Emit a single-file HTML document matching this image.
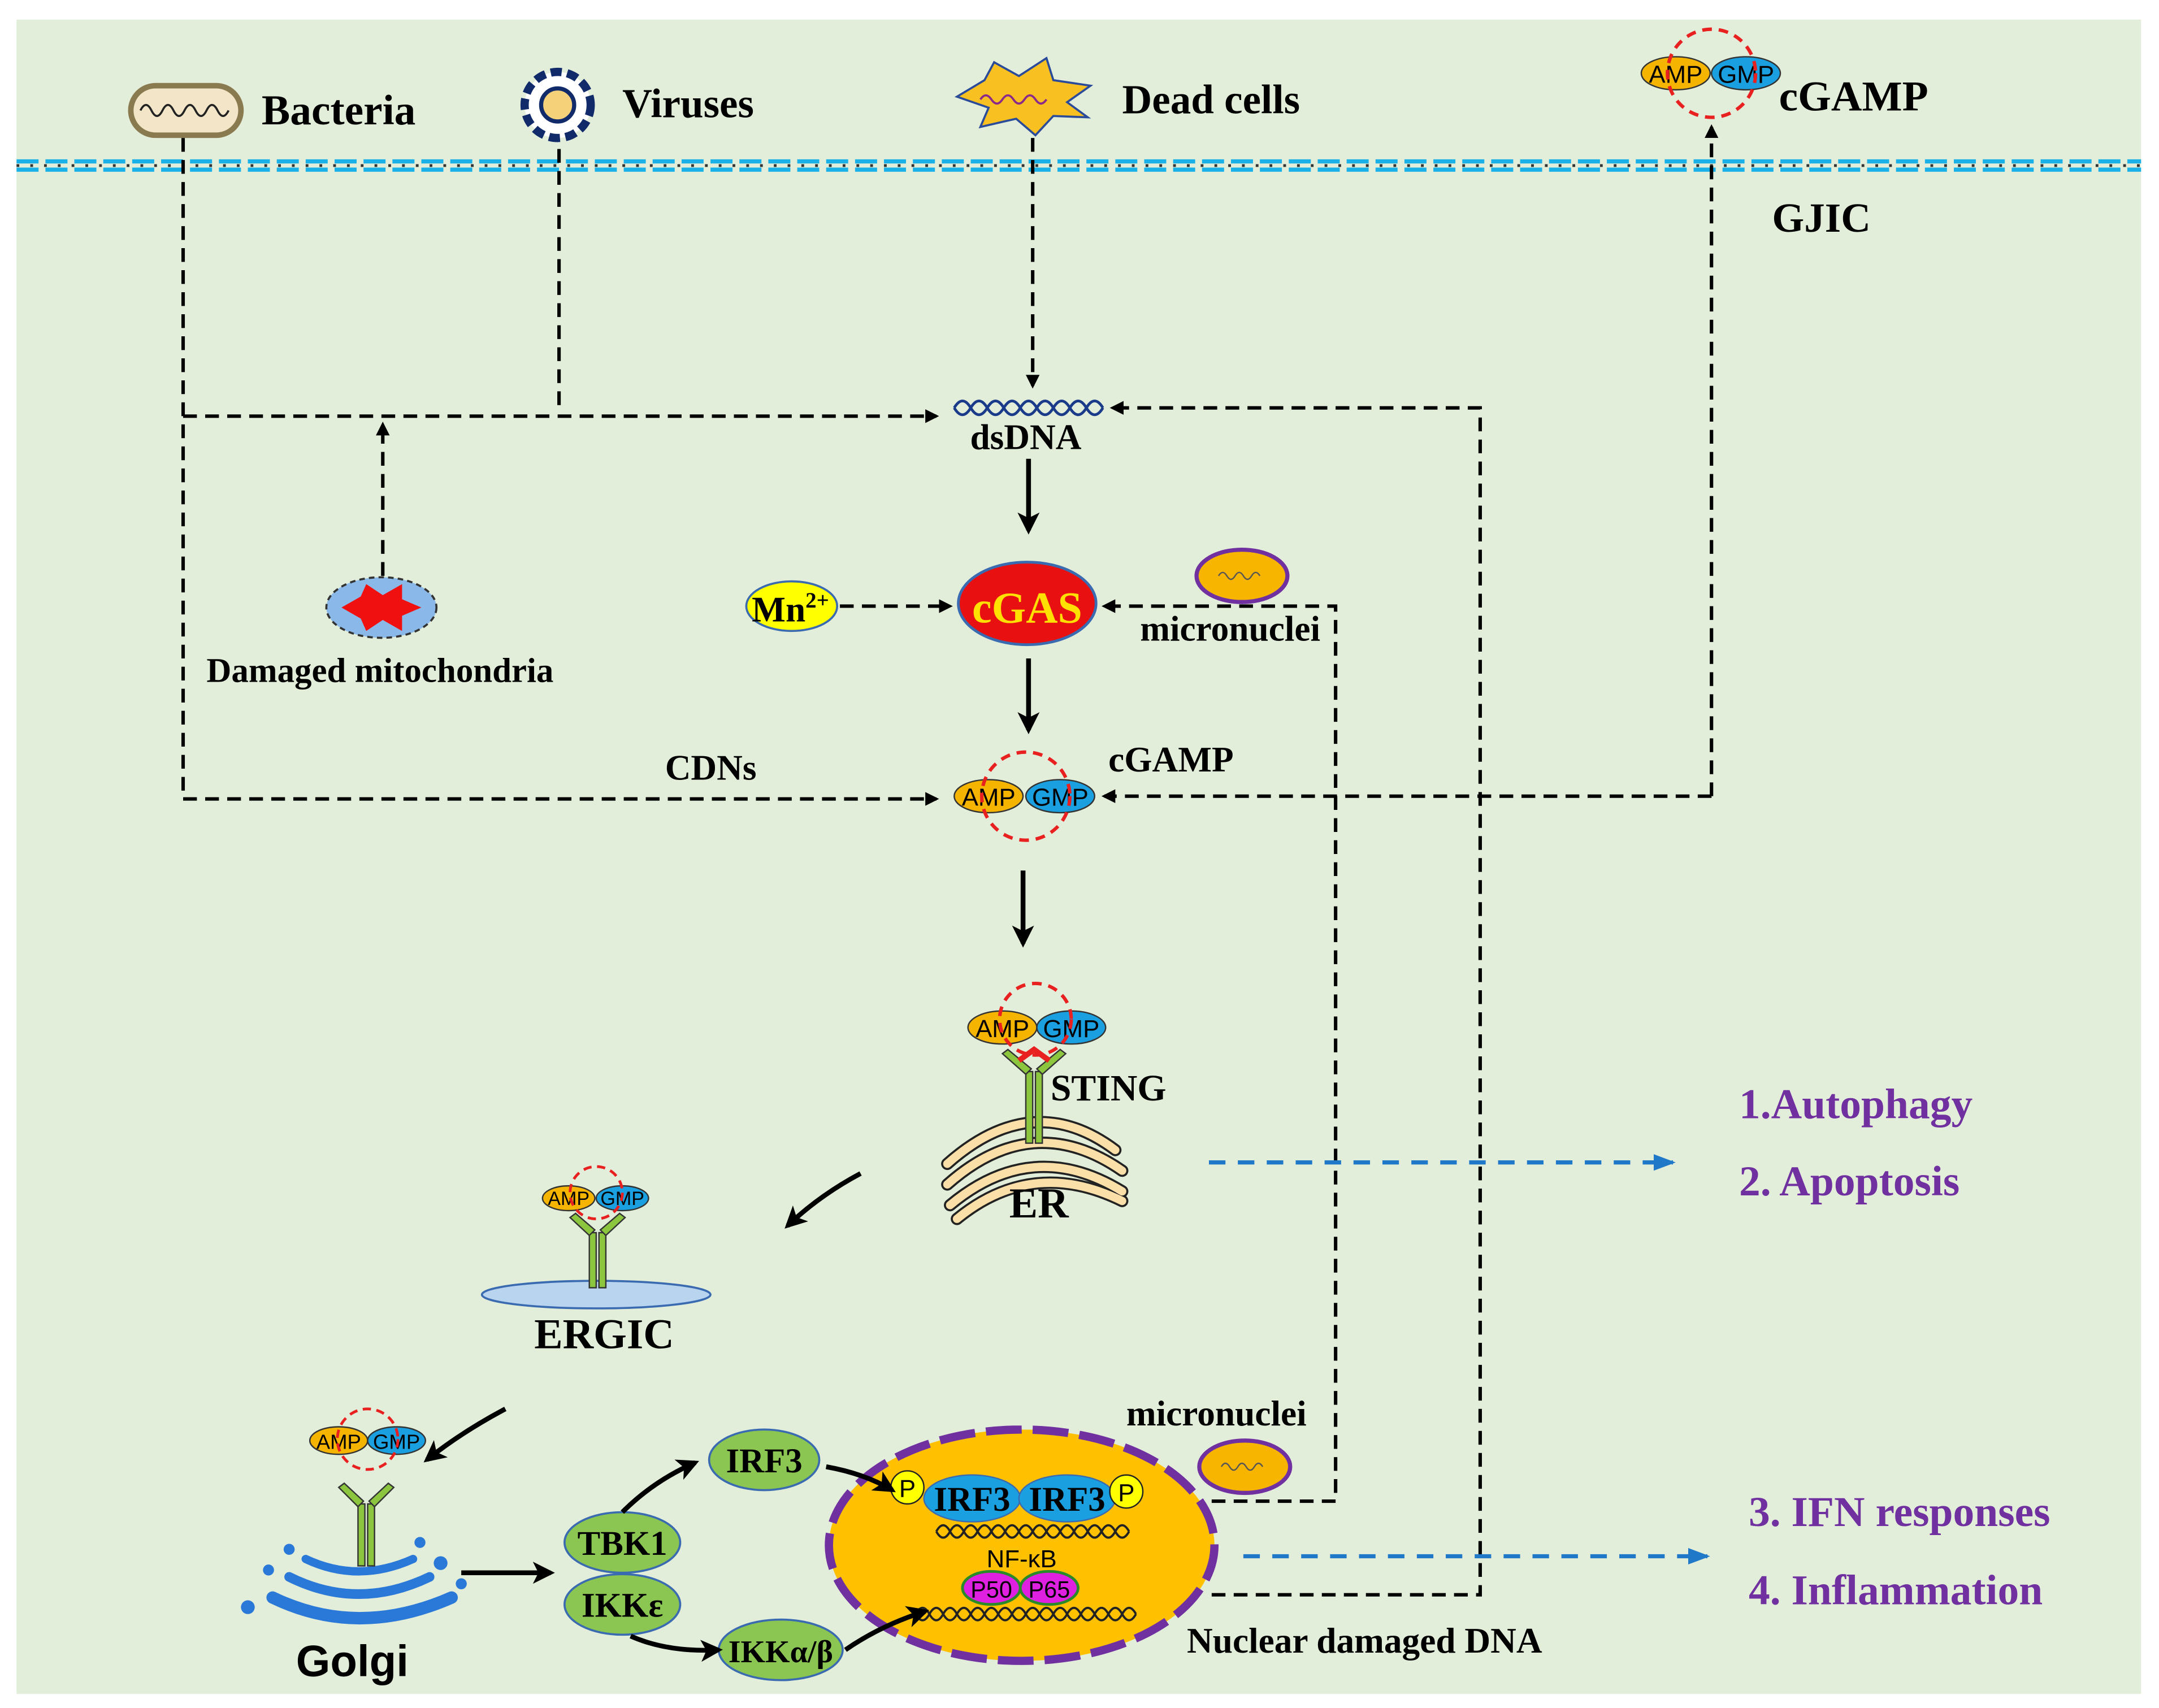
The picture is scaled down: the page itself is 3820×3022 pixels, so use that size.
<!DOCTYPE html>
<html><head><meta charset="utf-8"><style>
html,body{margin:0;padding:0;background:#fff;}
svg{display:block;}
text{font-family:"Liberation Serif",serif;font-weight:bold;}
text.s{font-family:"Liberation Sans",sans-serif;font-weight:normal;}
text.sb{font-family:"Liberation Sans",sans-serif;font-weight:bold;}
</style></head><body>
<svg width="3820" height="3022" viewBox="0 0 1568 1240" xmlns="http://www.w3.org/2000/svg">
<defs>
<marker id="ab" markerWidth="10" markerHeight="10" refX="8" refY="5" orient="auto" markerUnits="userSpaceOnUse"><path d="M0,0 L10,5 L0,10 Z" fill="#000"/></marker>
<marker id="abig" markerWidth="16" markerHeight="16" refX="13" refY="8" orient="auto" markerUnits="userSpaceOnUse"><path d="M0,0 L16,8 L0,16 L4,8 Z" fill="#000"/></marker>
<marker id="ablue" markerWidth="16" markerHeight="12" refX="14" refY="6" orient="auto" markerUnits="userSpaceOnUse"><path d="M0,0 L16,6 L0,12 Z" fill="#1f78c8"/></marker>
</defs>
<rect x="12" y="14" width="1543" height="1216" fill="#e2eed9"/>
<!-- membrane -->
<line x1="12" y1="117" x2="1555" y2="117" stroke="#1ab0e8" stroke-width="3" stroke-dasharray="16 5"/>
<line x1="12" y1="123" x2="1555" y2="123" stroke="#1ab0e8" stroke-width="3" stroke-dasharray="16 5"/>
<line x1="12" y1="120" x2="1555" y2="120" stroke="#333" stroke-width="2" stroke-dasharray="2 8"/>

<!-- dashed connectors -->
<g fill="none" stroke="#000" stroke-width="2.5" stroke-dasharray="10 6">
<path d="M133,100 V580 H680" marker-end="url(#ab)"/>
<path d="M133,302 H680" marker-end="url(#ab)"/>
<path d="M406,108 V296"/>
<path d="M278,418 V308" marker-end="url(#ab)"/>
<path d="M750,100 V280" marker-end="url(#ab)"/>
<path d="M880,1158 H1075 V296 H808" marker-end="url(#ab)"/>
<path d="M880,1090 H970 V440 H802" marker-end="url(#ab)"/>
<path d="M1243,578 V92" marker-end="url(#ab)"/>
<path d="M1243,578 H802" marker-end="url(#ab)"/>
<path d="M610,440 H690" marker-end="url(#ab)"/>
</g>
<!-- blue dashed arrows -->
<g stroke="#1f78c8" stroke-width="3" stroke-dasharray="12 9" fill="none">
<path d="M878,844 H1215" marker-end="url(#ablue)"/>
<path d="M903,1130 H1240" marker-end="url(#ablue)"/>
</g>

<!-- Bacteria -->
<rect x="95" y="62" width="80" height="36" rx="18" fill="#f3e6c8" stroke="#8a7a50" stroke-width="4"/>
<path d="M102,80 q4,-8 8,0 t8,0 t8,0 t8,0 t8,0 t8,0 t8,0 t8,0" stroke="#222" stroke-width="1.5" fill="none"/>
<text x="190" y="90" font-size="31">Bacteria</text>
<!-- Virus -->
<circle cx="405" cy="76" r="24" fill="#fff" stroke="#102a6a" stroke-width="6" stroke-dasharray="8 4"/>
<circle cx="405" cy="76" r="12" fill="#f5d27a" stroke="#102a6a" stroke-width="3"/>
<text x="452" y="85" font-size="30">Viruses</text>
<!-- dead cells -->
<polygon points="695,70 715,58 722,45 740,55 760,42 765,58 792,62 775,74 790,85 765,84 752,98 738,86 712,92 718,78" fill="#f8c020" stroke="#2a4a9a" stroke-width="1.5"/>
<path d="M712,72 q4,-6 8,0 t8,0 t8,0 t8,0 t8,0 t8,0" stroke="#8a2a8a" stroke-width="1.5" fill="none"/>
<text x="815" y="82" font-size="30">Dead cells</text>
<!-- cGAMP top -->
<ellipse cx="1217" cy="53" rx="25" ry="12" fill="#f5b400" stroke="#333"/>
<ellipse cx="1268" cy="53" rx="25" ry="12" fill="#1aa0e0" stroke="#333"/>
<text class="s" x="1217" y="60" font-size="18" text-anchor="middle">AMP</text>
<text class="s" x="1268" y="60" font-size="18" text-anchor="middle">GMP</text>
<circle cx="1243" cy="53" r="32" fill="none" stroke="#e82020" stroke-width="2.5" stroke-dasharray="7 5"/>
<text x="1292" y="80" font-size="31">cGAMP</text>
<text x="1287" y="168" font-size="30">GJIC</text>

<!-- dsDNA -->
<path d="M693,296 q6,-10 12,0 t12,0 t12,0 t12,0 t12,0 t12,0 t12,0 t12,0 t12,0" stroke="#1a3a8a" stroke-width="2" fill="none"/>
<path d="M693,296 q6,10 12,0 t12,0 t12,0 t12,0 t12,0 t12,0 t12,0 t12,0 t12,0" stroke="#1a3a8a" stroke-width="2" fill="none"/>
<text x="745" y="326" font-size="26" text-anchor="middle">dsDNA</text>
<!-- cGAS -->
<ellipse cx="746" cy="438" rx="50" ry="30" fill="#e81010" stroke="#3a6ab0" stroke-width="2"/>
<text x="746" y="452" font-size="32" fill="#ffe000" text-anchor="middle">cGAS</text>
<!-- Mn -->
<ellipse cx="575" cy="440" rx="33" ry="18" fill="#ffff00" stroke="#3a6ab0" stroke-width="1.5"/>
<text x="546" y="451" font-size="26">Mn<tspan font-size="16" dy="-10">2+</tspan></text>
<!-- micronuclei top -->
<ellipse cx="902" cy="418" rx="33" ry="19" fill="#f7b500" stroke="#7030a0" stroke-width="3"/>
<path d="M885,418 q3,-5 6,0 t6,0 t6,0 t6,0 t6,0" stroke="#555" fill="none"/>
<text x="828" y="465" font-size="26">micronuclei</text>
<!-- mito -->
<ellipse cx="277" cy="441" rx="40" ry="22" fill="#8ab8e8" stroke="#333" stroke-width="1.5" stroke-dasharray="4 3"/>
<polygon points="248,441 262,433 266,424 278,432 292,424 292,435 306,441 292,447 292,458 278,450 266,458 262,449" fill="#f01010"/>
<text x="150" y="495" font-size="25">Damaged mitochondria</text>
<!-- cGAMP mid -->
<text x="483" y="566" font-size="26">CDNs</text>
<ellipse cx="718" cy="578" rx="25" ry="12" fill="#f5b400" stroke="#333"/>
<ellipse cx="770" cy="578" rx="25" ry="12" fill="#1aa0e0" stroke="#333"/>
<text class="s" x="718" y="585" font-size="18" text-anchor="middle">AMP</text>
<text class="s" x="770" y="585" font-size="18" text-anchor="middle">GMP</text>
<circle cx="745" cy="578" r="32" fill="none" stroke="#e82020" stroke-width="2.5" stroke-dasharray="7 5"/>
<text x="805" y="560" font-size="26">cGAMP</text>

<!-- ER -->
<g fill="none" stroke="#222" stroke-width="9" stroke-linecap="round">
<path d="M688,845 Q750,790 810,835"/><path d="M688,860 Q750,805 815,850"/><path d="M690,875 Q750,825 815,865"/><path d="M695,885 Q750,840 815,872"/>
</g>
<g fill="none" stroke="#fae0a8" stroke-width="6" stroke-linecap="round">
<path d="M688,845 Q750,790 810,835"/><path d="M688,860 Q750,805 815,850"/><path d="M690,875 Q750,825 815,865"/><path d="M695,885 Q750,840 815,872"/>
</g>
<!-- STING -->
<g stroke="#333" stroke-width="1">
<rect x="745" y="778" width="5" height="52" fill="#8cc63e"/><rect x="752" y="778" width="5" height="52" fill="#8cc63e"/>
<path d="M745,780 L728,765 L732,762 L749,776Z" fill="#8cc63e"/><path d="M757,780 L774,765 L770,762 L753,776Z" fill="#8cc63e"/>
</g>
<path d="M740,770 L751,762 L762,770" stroke="#e82020" stroke-width="4" fill="none"/>
<ellipse cx="728" cy="746" rx="25" ry="12" fill="#f5b400" stroke="#333"/>
<ellipse cx="778" cy="746" rx="25" ry="12" fill="#1aa0e0" stroke="#333"/>
<text class="s" x="728" y="753" font-size="18" text-anchor="middle">AMP</text>
<text class="s" x="778" y="753" font-size="18" text-anchor="middle">GMP</text>
<circle cx="752" cy="740" r="26" fill="none" stroke="#e82020" stroke-width="2.5" stroke-dasharray="7 5"/>
<text x="763" y="799" font-size="27">STING</text>
<text x="733" y="884" font-size="31">ER</text>

<!-- ERGIC -->
<ellipse cx="433" cy="940" rx="83" ry="10" fill="#b8d4ee" stroke="#3a6ab0" stroke-width="1.5"/>
<g stroke="#333" stroke-width="1">
<rect x="428" y="895" width="5" height="40" fill="#8cc63e"/><rect x="435" y="895" width="5" height="40" fill="#8cc63e"/>
<path d="M428,897 L414,884 L418,881 L432,893Z" fill="#8cc63e"/><path d="M440,897 L454,884 L450,881 L436,893Z" fill="#8cc63e"/>
</g>
<ellipse cx="413" cy="870" rx="19" ry="9" fill="#f5b400" stroke="#333"/>
<ellipse cx="452" cy="870" rx="19" ry="9" fill="#1aa0e0" stroke="#333"/>
<text class="s" x="413" y="875" font-size="14" text-anchor="middle">AMP</text>
<text class="s" x="452" y="875" font-size="14" text-anchor="middle">GMP</text>
<circle cx="433" cy="866" r="19" fill="none" stroke="#e82020" stroke-width="2" stroke-dasharray="6 4"/>
<text x="388" y="979" font-size="31">ERGIC</text>

<!-- Golgi -->
<g fill="none" stroke="#2a78d8" stroke-linecap="round">
<path d="M198,1160 Q260,1190 328,1160" stroke-width="9"/>
<path d="M210,1145 Q260,1170 312,1145" stroke-width="7"/>
<path d="M222,1132 Q260,1150 300,1132" stroke-width="6"/>
</g>
<g fill="#2a78d8"><circle cx="180" cy="1167" r="5"/><circle cx="195" cy="1140" r="4"/><circle cx="320" cy="1135" r="5"/><circle cx="335" cy="1150" r="4"/><circle cx="210" cy="1125" r="4"/><circle cx="305" cy="1120" r="4"/></g>
<g stroke="#333" stroke-width="1">
<rect x="260" y="1092" width="5" height="45" fill="#8cc63e"/><rect x="267" y="1092" width="5" height="45" fill="#8cc63e"/>
<path d="M260,1094 L246,1080 L250,1077 L264,1090Z" fill="#8cc63e"/><path d="M272,1094 L286,1080 L282,1077 L268,1090Z" fill="#8cc63e"/>
</g>
<ellipse cx="246" cy="1046" rx="21" ry="10" fill="#f5b400" stroke="#333"/>
<ellipse cx="288" cy="1046" rx="21" ry="10" fill="#1aa0e0" stroke="#333"/>
<text class="s" x="246" y="1052" font-size="15" text-anchor="middle">AMP</text>
<text class="s" x="288" y="1052" font-size="15" text-anchor="middle">GMP</text>
<circle cx="267" cy="1045" r="22" fill="none" stroke="#e82020" stroke-width="2" stroke-dasharray="6 4"/>
<text class="sb" x="215" y="1217" font-size="32">Golgi</text>

<!-- kinases -->
<g fill="#8cc652" stroke="#3a6ab0" stroke-width="1.5">
<ellipse cx="452" cy="1120" rx="42" ry="22"/><ellipse cx="452" cy="1165" rx="42" ry="22"/>
<ellipse cx="555" cy="1060" rx="40" ry="22"/><ellipse cx="567" cy="1198" rx="45" ry="22"/>
</g>
<text x="452" y="1129" font-size="25" text-anchor="middle">TBK1</text>
<text x="452" y="1174" font-size="25" text-anchor="middle">IKKε</text>
<text x="555" y="1069" font-size="25" text-anchor="middle">IRF3</text>
<text x="567" y="1207" font-size="23" text-anchor="middle">IKKα/β</text>

<!-- nucleus -->
<ellipse cx="742" cy="1122" rx="140" ry="84" fill="#ffc000" stroke="#7030a0" stroke-width="6" stroke-dasharray="26 8"/>
<g fill="none" stroke="#222" stroke-width="1.6">
<path d="M680,1112 q5,-9 10,0 t10,0 t10,0 t10,0 t10,0 t10,0 t10,0 t10,0 t10,0 t10,0 t10,0 t10,0 t10,0 t10,0"/>
<path d="M680,1112 q5,9 10,0 t10,0 t10,0 t10,0 t10,0 t10,0 t10,0 t10,0 t10,0 t10,0 t10,0 t10,0 t10,0 t10,0"/>
<path d="M665,1172 q5,-9 10,0 t10,0 t10,0 t10,0 t10,0 t10,0 t10,0 t10,0 t10,0 t10,0 t10,0 t10,0 t10,0 t10,0 t10,0 t10,0"/>
<path d="M665,1172 q5,9 10,0 t10,0 t10,0 t10,0 t10,0 t10,0 t10,0 t10,0 t10,0 t10,0 t10,0 t10,0 t10,0 t10,0 t10,0 t10,0"/>
</g>
<ellipse cx="706" cy="1088" rx="35" ry="17" fill="#1aa0e0" stroke="#3a6ab0"/>
<ellipse cx="775" cy="1088" rx="35" ry="17" fill="#1aa0e0" stroke="#3a6ab0"/>
<text x="706" y="1097" font-size="25" text-anchor="middle">IRF3</text>
<text x="775" y="1097" font-size="25" text-anchor="middle">IRF3</text>
<circle cx="659" cy="1080" r="12" fill="#ffff00" stroke="#222"/><text class="s" x="659" y="1087" font-size="18" text-anchor="middle">P</text>
<circle cx="818" cy="1083" r="12" fill="#ffff00" stroke="#222"/><text class="s" x="818" y="1090" font-size="18" text-anchor="middle">P</text>
<text class="s" x="742" y="1138" font-size="18" text-anchor="middle">NF-κB</text>
<ellipse cx="720" cy="1153" rx="21" ry="12" fill="#e020e0" stroke="#2a8a2a" stroke-width="2"/>
<ellipse cx="762" cy="1153" rx="21" ry="12" fill="#e020e0" stroke="#2a8a2a" stroke-width="2"/>
<text class="s" x="720" y="1160" font-size="17" text-anchor="middle">P50</text>
<text class="s" x="762" y="1160" font-size="17" text-anchor="middle">P65</text>

<!-- solid arrows (on top) -->
<g stroke="#000" stroke-width="3.5" fill="none">
<path d="M747,333 V385" marker-end="url(#abig)"/>
<path d="M747,478 V530" marker-end="url(#abig)"/>
<path d="M743,632 V685" marker-end="url(#abig)"/>
<path d="M625,852 Q595,868 572,890" marker-end="url(#abig)"/>
<path d="M367,1023 Q335,1040 310,1060" marker-end="url(#abig)"/>
<path d="M335,1142 H400" marker-end="url(#abig)"/>
<path d="M452,1098 Q475,1075 505,1062" marker-end="url(#abig)"/>
<path d="M458,1188 Q485,1200 522,1198" marker-end="url(#abig)"/>
<path d="M600,1065 Q628,1070 648,1082" marker-end="url(#abig)"/>
<path d="M614,1198 Q640,1180 672,1170" marker-end="url(#abig)"/>
</g>

<!-- micronuclei lower -->
<ellipse cx="904" cy="1065" rx="33" ry="19" fill="#f7b500" stroke="#7030a0" stroke-width="3"/>
<path d="M887,1065 q3,-5 6,0 t6,0 t6,0 t6,0 t6,0" stroke="#555" fill="none"/>
<text x="818" y="1035" font-size="26">micronuclei</text>
<text x="862" y="1200" font-size="26">Nuclear damaged DNA</text>

<!-- outcomes -->
<g fill="#7030a0" font-size="31">
<text x="1263" y="812">1.Autophagy</text>
<text x="1263" y="868">2. Apoptosis</text>
<text x="1270" y="1108">3. IFN responses</text>
<text x="1270" y="1165">4. Inflammation</text>
</g>
</svg>
</body></html>
